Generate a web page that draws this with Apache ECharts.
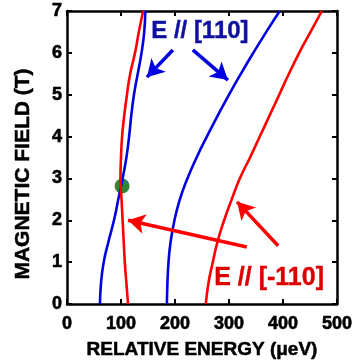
<!DOCTYPE html>
<html>
<head>
<meta charset="utf-8">
<script src="https://cdn.jsdelivr.net/npm/echarts@6/dist/echarts.min.js"></script>
<style>
  html, body { margin: 0; padding: 0; background: #fff; }
  #main { width: 353px; height: 360px; }
</style>
</head>
<body>
<div id="main"></div>
<script>
// magnetic field samples (T) and relative energies (ueV)
var field = [0, 0.5, 1, 1.5, 2, 2.5, 3, 3.5, 4, 4.5, 5, 5.5, 6, 6.5, 7];
var blueLeft = [61, 63, 68, 77, 87, 95, 103, 110, 115, 119, 124, 131, 138, 143, 145];
var redLeft = [113, 110, 107, 105, 103, 101, 99, 100, 102, 106, 111, 117, 126, 133, 141];
var blueMid = [185, 186, 188, 192, 199, 209, 223, 240, 259, 279, 300, 322, 345, 369, 394];
var redRight = [257, 262, 270, 279, 291, 305, 320, 339, 357, 375, 393, 411, 430, 451, 472];
var crossing = [102, 2.82];

function pairs(xs, ys) {
  return ys.map(function (y, i) { return [xs[i], y]; });
}

var font = 'Liberation Sans, Arial, sans-serif';
var chart = echarts.init(document.getElementById('main'));

function curve(xs, color) {
  return {
    type: 'line',
    data: pairs(xs, field),
    smooth: true,
    showSymbol: false,
    lineStyle: { color: color, width: 2.6 },
    silent: true
  };
}

function arrows(color, lines) {
  return {
    type: 'line',
    data: [],
    silent: true,
    markLine: {
      silent: true,
      animation: false,
      symbol: ['none', 'arrow'],
      symbolSize: [15, 17],
      label: { show: false },
      lineStyle: { color: color, width: 3.5, type: 'solid' },
      data: lines.map(function (l) {
        return [{ coord: l[0] }, { coord: l[1] }];
      })
    }
  };
}

var tickText = {
  fontFamily: font, fontWeight: 'bold', fontSize: 18, color: '#000',
  textBorderColor: '#000', textBorderWidth: 0.6
};

var axisCommon = {
  axisLine: { onZero: false, lineStyle: { color: '#000', width: 2.5 } },
  axisTick: { inside: true, length: 5, lineStyle: { color: '#000', width: 2 } },
  splitLine: { show: false }
};

chart.setOption({
  animation: false,
  backgroundColor: '#fff',
  grid: { left: 67, top: 11, right: 16, bottom: 56, outerBoundsMode: 'none' },
  xAxis: [
    Object.assign({
      type: 'value', min: 0, max: 500, interval: 100,
      name: 'RELATIVE ENERGY (\u03bceV)', nameLocation: 'middle', nameGap: 36,
      nameTextStyle: { fontFamily: font, fontWeight: 'bold', fontSize: 19, color: '#000',
        textBorderColor: '#000', textBorderWidth: 0.5 },
      axisLabel: Object.assign({ margin: 11 }, tickText)
    }, axisCommon),
    Object.assign({
      type: 'value', min: 0, max: 500, interval: 100, position: 'top',
      axisLabel: { show: false }
    }, axisCommon)
  ],
  yAxis: [
    Object.assign({
      type: 'value', min: 0, max: 7, interval: 1,
      axisLabel: Object.assign({ margin: 5 }, tickText)
    }, axisCommon),
    Object.assign({
      type: 'value', min: 0, max: 7, interval: 1, position: 'right',
      axisLabel: { show: false }
    }, axisCommon)
  ],
  series: [
    curve(blueLeft, '#0000e0'),
    curve(redLeft, '#ff0000'),
    curve(blueMid, '#0000e0'),
    curve(redRight, '#ff0000'),
    arrows('#0000e0', [
      [[196, 6.07], [148, 5.42]],
      [[233, 6.07], [298, 5.35]]
    ]),
    arrows('#ff0000', [
      [[333, 1.36], [113, 2.0]],
      [[391, 1.39], [315, 2.44]]
    ]),
    {
      type: 'scatter',
      data: [crossing],
      symbolSize: 15,
      itemStyle: { color: '#006600' },
      silent: true
    }
  ],
  graphic: [
    {
      type: 'text', x: 23, y: 174, rotation: Math.PI / 2,
      style: { text: 'MAGNETIC FIELD (T)', fontFamily: font, fontWeight: 'bold', fontSize: 21,
        fill: '#000', stroke: '#000', lineWidth: 0.5, align: 'center', verticalAlign: 'middle' }
    },
    {
      type: 'text', left: 151, top: 19,
      style: { text: 'E // [110]', fontFamily: font, fontWeight: 'bold', fontSize: 24,
        fill: '#10109e', stroke: '#10109e', lineWidth: 0.4 }
    },
    {
      type: 'text', left: 214, top: 265,
      style: { text: 'E // [-110]', fontFamily: font, fontWeight: 'bold', fontSize: 25,
        fill: '#dd0000', stroke: '#dd0000', lineWidth: 0.4 }
    }
  ]
});
</script>
</body>
</html>
